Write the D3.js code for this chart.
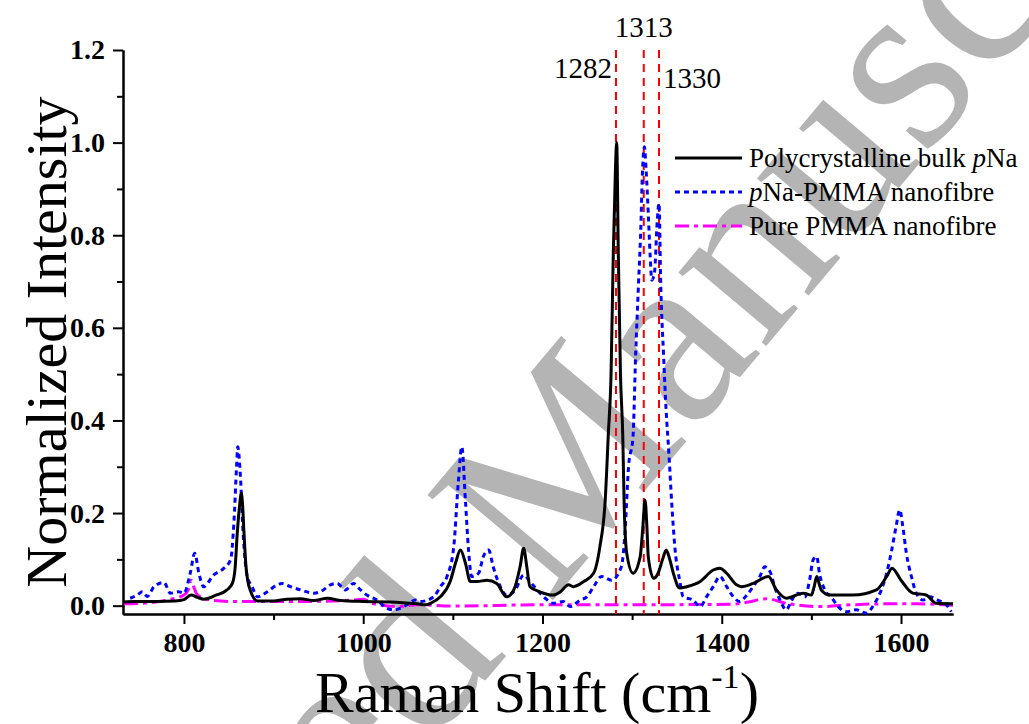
<!DOCTYPE html>
<html>
<head>
<meta charset="utf-8">
<script src="https://cdn.jsdelivr.net/npm/d3@7"></script>
<style>
  html, body { margin: 0; padding: 0; background: #fff; }
  svg { display: block; font-family: "Liberation Serif", "Times New Roman", serif; }
</style>
</head>
<body>
<svg id="chart" width="1029" height="724"></svg>
<script>
const width = 1029
const height = 724

// Raman spectra: [shift cm-1, normalized intensity]
const bulkPNa = [
  [733, 0.008], [745, 0.009], [770, 0.009], [790, 0.010], [800, 0.013], [808, 0.023], [815, 0.018],
  [822, 0.014], [835, 0.022], [848, 0.034], [854, 0.048], [857, 0.080], [859.5, 0.157], [862, 0.215],
  [864, 0.243], [865.5, 0.215], [867, 0.157], [869, 0.09], [871, 0.056], [875, 0.028], [878, 0.016],
  [882, 0.010], [900, 0.010], [915, 0.014], [930, 0.015], [945, 0.011], [960, 0.016], [975, 0.011],
  [1000, 0.009], [1030, 0.008], [1060, 0.004], [1070, 0.002], [1075, 0.005], [1086, 0.019],
  [1097, 0.052], [1103, 0.092], [1108.5, 0.12], [1114, 0.092], [1119.5, 0.052], [1127, 0.052],
  [1138, 0.055], [1149, 0.048], [1160, 0.019], [1168, 0.034], [1175, 0.084], [1179, 0.124],
  [1182.5, 0.084], [1186, 0.041], [1197, 0.030], [1212, 0.023], [1220, 0.030], [1229, 0.045],
  [1234.5, 0.041], [1246, 0.052], [1257, 0.07], [1264, 0.127], [1270, 0.228], [1273.5, 0.372],
  [1276.5, 0.5], [1279, 0.76], [1281.5, 0.95], [1282.8, 1.0], [1284.6, 0.76], [1287, 0.5],
  [1289.6, 0.365], [1291, 0.228], [1294, 0.113], [1301, 0.07], [1309, 0.106], [1312, 0.17],
  [1314.4, 0.228], [1316.5, 0.17], [1318, 0.106], [1324, 0.059], [1329, 0.07], [1334, 0.1],
  [1338, 0.12], [1342, 0.1], [1346, 0.07], [1353, 0.038], [1361, 0.041], [1376, 0.052],
  [1390.5, 0.077], [1398, 0.081], [1405.5, 0.07], [1416.6, 0.045], [1422, 0.041], [1435, 0.048],
  [1452, 0.063], [1461, 0.034], [1472, 0.016], [1491, 0.027], [1500, 0.023], [1503, 0.04],
  [1506, 0.063], [1509, 0.045], [1511, 0.034], [1520.5, 0.023], [1546.5, 0.023], [1572.6, 0.034],
  [1584, 0.063], [1590, 0.081], [1600, 0.055], [1613, 0.027], [1628, 0.023], [1639.5, 0.005],
  [1658, 0.004]
]

const pNaPMMA = [
  [740, 0.016], [748, 0.023], [753.6, 0.03], [759, 0.02], [766.6, 0.041], [777.7, 0.05], [785, 0.027],
  [794, 0.03], [800, 0.027], [807, 0.07], [812, 0.113], [816.7, 0.07], [822, 0.041], [833, 0.066],
  [844.6, 0.081], [852, 0.099], [855.7, 0.178], [858.7, 0.30], [860, 0.343], [863, 0.279],
  [866, 0.157], [870.6, 0.063], [876, 0.041], [882, 0.019], [893, 0.030], [904, 0.045],
  [909.6, 0.048], [919, 0.041], [930, 0.034], [945, 0.027], [952, 0.030], [963.5, 0.045],
  [971, 0.048], [980, 0.034], [989, 0.048], [997, 0.034], [1004, 0.023], [1015.5, 0.012],
  [1026.6, -0.006], [1034, -0.009], [1049, 0.002], [1058, 0.012], [1064, 0.009], [1078.6, 0.019],
  [1086, 0.041], [1093.5, 0.063], [1101, 0.127], [1106, 0.264], [1110, 0.343], [1114, 0.228],
  [1117.5, 0.12], [1121, 0.063], [1128.7, 0.07], [1134, 0.106], [1140, 0.12], [1145, 0.084],
  [1153, 0.041], [1160, 0.023], [1169.6, 0.034], [1179, 0.066], [1186, 0.052], [1194, 0.034],
  [1203, 0.016], [1212, 0.005], [1223, 0.009], [1231, -0.002], [1242, 0.012], [1249.5, 0.019],
  [1257, 0.041], [1266, 0.063], [1277, 0.055], [1288, 0.084], [1292, 0.156], [1296, 0.30],
  [1301, 0.365], [1304, 0.545], [1307, 0.689], [1310, 0.833], [1311, 0.905], [1313.7, 0.991],
  [1315.6, 0.941], [1318, 0.848], [1320, 0.761], [1322, 0.703], [1325, 0.72], [1328, 0.83],
  [1330, 0.869], [1332, 0.689], [1335, 0.545], [1338, 0.42], [1341, 0.33], [1344, 0.228],
  [1348, 0.12], [1353, 0.055], [1357, 0.019], [1368, 0.012], [1376, -0.002], [1383, 0.019],
  [1390.5, 0.041], [1398, 0.063], [1405.5, 0.041], [1413, 0.019], [1420, 0.009], [1428, 0.023],
  [1435, 0.041], [1442.5, 0.063], [1448, 0.084], [1454, 0.073], [1459, 0.041], [1465, 0.012],
  [1472, -0.009], [1478, 0.012], [1485, 0.027], [1492.7, 0.019], [1498, 0.055], [1502, 0.099],
  [1506, 0.106], [1509, 0.07], [1515, 0.034], [1522, 0.019], [1530, -0.002], [1539, -0.013],
  [1550, -0.009], [1561, -0.016], [1570.7, 0.005], [1578, 0.034], [1584, 0.07], [1589.6, 0.12],
  [1594.5, 0.171], [1598.6, 0.207], [1602, 0.171], [1606, 0.113], [1611.6, 0.063], [1617, 0.027],
  [1624.6, 0.012], [1632, 0.019], [1641, 0.012], [1650.6, 0.002], [1656, -0.013]
]

const purePMMA = [
  [733, 0.004], [760, 0.006], [781, 0.012], [800, 0.023], [805, 0.035], [808, 0.055], [812, 0.035],
  [815, 0.023], [830, 0.012], [856, 0.009], [930, 0.009], [989, 0.012], [1000, 0.014], [1012, 0.004],
  [1041, -0.002], [1060, 0.002], [1100, -0.001], [1200, 0.002], [1300, 0.002], [1410, 0.003],
  [1430, 0.008], [1450, 0.015], [1472, 0.005], [1509, -0.002], [1546, 0.002], [1584, 0.004],
  [1617, 0.004], [1658, 0.001]
]

const seriesNames = [
  [{ t: 'Polycrystalline bulk ' }, { t: 'p', i: true }, { t: 'Na' }],
  [{ t: 'p', i: true }, { t: 'Na-PMMA nanofibre' }],
  [{ t: 'Pure PMMA nanofibre' }]
]
const markedPeaks = [1282, 1313, 1330]
const xMajor = [800, 1000, 1200, 1400, 1600]
const xMinor = [900, 1100, 1300, 1500]
const yMajor = [0, 0.2, 0.4, 0.6, 0.8, 1.0, 1.2]
const yMinor = [0.1, 0.3, 0.5, 0.7, 0.9, 1.1]

const x = d3.scaleLinear().domain([732, 1658]).range([123, 953])
const y = d3.scaleLinear().domain([-0.018, 1.2]).range([614, 50])

const svg = d3.select('#chart')

// watermark
svg.append('text')
  .attr('transform', 'translate(548,606) rotate(-50)')
  .attr('x', -1006)
  .attr('font-size', 250)
  .attr('fill', '#b4b4b4')
  .text('Accepted Manuscript')

// axes
const axisStyle = g => {
  g.selectAll('path, line').attr('stroke', '#000').attr('stroke-width', 2)
  g.selectAll('text').attr('font-family', '"Liberation Serif", serif')
    .attr('font-weight', 'bold').attr('font-size', 28).attr('fill', '#000')
}

svg.append('g').attr('transform', `translate(0,${y.range()[0]})`)
  .call(d3.axisBottom(x).tickValues(xMajor).tickSize(10).tickSizeOuter(0).tickPadding(8).tickFormat(d3.format('d')))
  .call(axisStyle)
svg.append('g').attr('transform', `translate(0,${y.range()[0]})`)
  .call(d3.axisBottom(x).tickValues(xMinor).tickSize(6).tickSizeOuter(0).tickFormat(''))
  .call(axisStyle)
svg.append('g').attr('transform', `translate(${x.range()[0]},0)`)
  .call(d3.axisLeft(y).tickValues(yMajor).tickSize(10).tickSizeOuter(0).tickPadding(8).tickFormat(d3.format('.1f')))
  .call(axisStyle)
svg.append('g').attr('transform', `translate(${x.range()[0]},0)`)
  .call(d3.axisLeft(y).tickValues(yMinor).tickSize(6).tickSizeOuter(0).tickFormat(''))
  .call(axisStyle)

// marked peaks
svg.append('g').selectAll('line').data(markedPeaks).join('line')
  .attr('x1', d => x(d)).attr('x2', d => x(d))
  .attr('y1', y(1.2)).attr('y2', y.range()[0])
  .attr('stroke', '#ff0000').attr('stroke-width', 2).attr('stroke-dasharray', '8,6')

const peakLabels = svg.append('g').attr('font-size', 29).attr('fill', '#000')
peakLabels.append('text').attr('x', x(markedPeaks[1])).attr('y', 37).attr('text-anchor', 'middle').text(markedPeaks[1])
peakLabels.append('text').attr('x', x(markedPeaks[0]) - 4).attr('y', 78).attr('text-anchor', 'end').text(markedPeaks[0])
peakLabels.append('text').attr('x', x(markedPeaks[2]) + 4).attr('y', 88).attr('text-anchor', 'start').text(markedPeaks[2])

// spectra
const line = d3.line().x(d => x(d[0])).y(d => y(d[1])).curve(d3.curveMonotoneX)
const styles = [
  { color: '#000000', dash: null, data: bulkPNa },
  { color: '#0000ff', dash: '5,4', data: pNaPMMA },
  { color: '#ff00ff', dash: '14,5,4,5', data: purePMMA }
]

svg.append('g').selectAll('path').data(styles.slice().reverse()).join('path')
  .attr('d', d => line(d.data))
  .attr('fill', 'none')
  .attr('stroke', d => d.color)
  .attr('stroke-width', 3)
  .attr('stroke-dasharray', d => d.dash)

// legend
const legend = svg.append('g')
styles.forEach((s, i) => {
  const ly = 158 + i * 34
  legend.append('line')
    .attr('x1', 675).attr('x2', 742).attr('y1', ly).attr('y2', ly)
    .attr('stroke', s.color).attr('stroke-width', 3).attr('stroke-dasharray', s.dash)
  const t = legend.append('text').attr('x', 749).attr('y', ly + 9).attr('font-size', 27)
  seriesNames[i].forEach(p => {
    t.append('tspan').attr('font-style', p.i ? 'italic' : null).text(p.t)
  })
})

// axis titles
const xt = svg.append('text').attr('x', 537).attr('y', 712).attr('text-anchor', 'middle').attr('font-size', 58)
xt.append('tspan').text('Raman Shift (cm')
xt.append('tspan').attr('font-size', 34).attr('dy', -24).text('-1')
xt.append('tspan').attr('dy', 24).text(')')

svg.append('text')
  .attr('transform', 'translate(66,342) rotate(-90)')
  .attr('text-anchor', 'middle').attr('font-size', 58)
  .text('Normalized Intensity')
</script>
</body>
</html>
